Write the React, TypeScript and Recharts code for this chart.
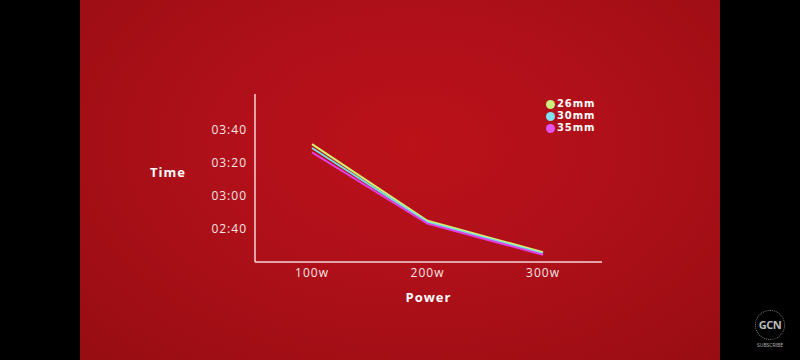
import { LineChart, Line, XAxis, YAxis, Label } from 'recharts'

const powers = ['100w', '200w', '300w']
// times in seconds
const time26 = [211.6, 165, 146]
const time30 = [209.2, 164.2, 145.2]
const time35 = [206.6, 163.3, 144.4]
const timeTicks = [160, 180, 200, 220]

const series = [
  { key: 'mm26', name: '26mm', color: '#d6f26c', dot: '#c9f07c' },
  { key: 'mm30', name: '30mm', color: '#72dfe9', dot: '#7fe2f2' },
  { key: 'mm35', name: '35mm', color: '#e23fe4', dot: '#e253f0' },
]

const data = powers.map((p, i) => ({
  power: p,
  mm26: time26[i],
  mm30: time30[i],
  mm35: time35[i],
}))

const FONT = '"Open Sans", "DejaVu Sans", sans-serif'

function fmtTime(sec: number) {
  const m = Math.floor(sec / 60)
  const s = Math.round(sec % 60)
  return `${String(m).padStart(2, '0')}:${String(s).padStart(2, '0')}`
}

function LegendBox() {
  return (
    <div style={{ position: 'absolute', left: 546, top: 98, fontFamily: '"DejaVu Sans", sans-serif', fontWeight: 700, fontSize: 10, lineHeight: '12px', color: '#fff', letterSpacing: 0.9 }}>
      {series.map(s => (
        <div key={s.key} style={{ display: 'flex', alignItems: 'center', height: 12 }}>
          <span style={{ width: 9, height: 9, borderRadius: '50%', background: s.dot, marginRight: 2, display: 'inline-block' }} />
          <span>{s.name}</span>
        </div>
      ))}
    </div>
  )
}

export default function App() {
  return (
    <div style={{ position: 'fixed', left: 0, top: 0, width: 800, height: 360, background: '#000', overflow: 'hidden' }}>
      <div
        style={{
          position: 'absolute', left: 80, top: 0, width: 640, height: 360,
          background: 'radial-gradient(ellipse at 52% 40%, #bb1119 0%, #b0101a 40%, #a20e15 75%, #960d12 100%)',
        }}
      />
      <div style={{ position: 'absolute', left: 0, top: 0 }}>
        <LineChart width={800} height={360} data={data} margin={{ top: 94, right: 198, bottom: 58, left: 130 }}>
          <XAxis
            dataKey="power"
            padding={{ left: 57, right: 59 }}
            axisLine={{ stroke: '#f2d6d6', strokeWidth: 1.5 }}
            tickLine={false}
            tickSize={0}
            tickMargin={6}
            height={40}
            tick={{ fill: '#f4e6e6', fontSize: 12, fontFamily: FONT, letterSpacing: 1 }}
          >
            <Label value="Power" position="insideBottom" offset={0} fill="#fff" fontSize={13} fontWeight={700} fontFamily={FONT} style={{ letterSpacing: 1 }} />
          </XAxis>
          <YAxis
            domain={[140, 242]}
            ticks={timeTicks}
            tickFormatter={fmtTime}
            width={125}
            axisLine={{ stroke: '#f2d6d6', strokeWidth: 1.5 }}
            tickLine={false}
            tickSize={0}
            tickMargin={8}
            tick={{ fill: '#f4e6e6', fontSize: 12, fontFamily: FONT, letterSpacing: 1 }}
          >
            <Label value="Time" position="insideLeft" offset={20} dy={-6} fill="#fff" fontSize={13} fontWeight={700} fontFamily={FONT} style={{ letterSpacing: 1 }} />
          </YAxis>
          {series.map(s => (
            <Line
              key={s.key}
              dataKey={s.key}
              name={s.name}
              stroke={s.color}
              strokeWidth={2}
              dot={false}
              type="linear"
              isAnimationActive={false}
            />
          ))}
        </LineChart>
      </div>
      <LegendBox />
      <div style={{ position: 'absolute', left: 752, top: 310, width: 36, textAlign: 'center', fontFamily: FONT, color: '#bbb' }}>
        <div style={{ width: 28, height: 28, margin: '0 auto', borderRadius: '50%', border: '1px dotted #888', fontSize: 11, fontWeight: 700, lineHeight: '28px', letterSpacing: -0.5 }}>GCN</div>
        <div style={{ fontSize: 5, marginTop: 2 }}>SUBSCRIBE</div>
      </div>
    </div>
  )
}
